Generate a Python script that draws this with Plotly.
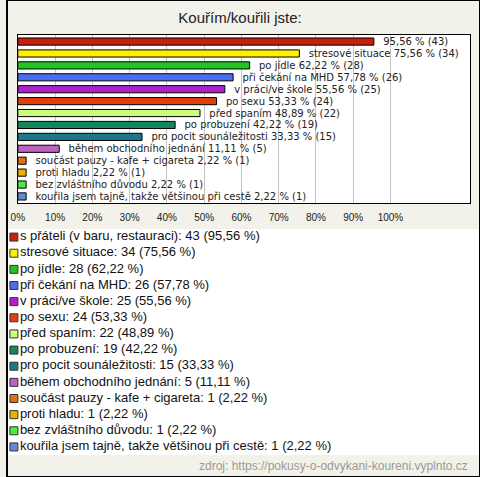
import plotly.graph_objects as go

categories = [
    "s přáteli (v baru, restauraci)",
    "stresové situace",
    "po jídle",
    "při čekání na MHD",
    "v práci/ve škole",
    "po sexu",
    "před spaním",
    "po probuzení",
    "pro pocit sounáležitosti",
    "během obchodního jednání",
    "součást pauzy - kafe + cigareta",
    "proti hladu",
    "bez zvláštního důvodu",
    "kouřila jsem tajně, takže většinou při cestě",
]
counts = [43, 34, 28, 26, 25, 24, 22, 19, 15, 5, 1, 1, 1, 1]
percents = [95.56, 75.56, 62.22, 57.78, 55.56, 53.33, 48.89, 42.22, 33.33, 11.11, 2.22, 2.22, 2.22, 2.22]
colors = ["#c8200e", "#ffee00", "#22c622", "#4a6ef0", "#b020d0", "#e0400c", "#ccff77",
          "#12885a", "#1a7a8c", "#c060c0", "#e07010", "#e8b400", "#44ee44", "#6688dd"]
tick_vals = [0, 10, 20, 30, 40, 50, 60, 70, 80, 90, 100]
tick_text = [f"{v}%" for v in tick_vals]

def fmt(p):
    return f"{p:.2f}".replace(".", ",")

NB = "\u00a0"
bar_text = []
for i, (c, n, p) in enumerate(zip(categories, counts, percents)):
    if i == 0:
        bar_text.append(f"{NB}{NB}{fmt(p)} % ({n})")
    else:
        bar_text.append(f"{NB}{NB}{c} {fmt(p)} % ({n})")

legend_text = [f"{c}: {n} ({fmt(p)} %)" for c, n, p in zip(categories, counts, percents)]
idx = list(range(len(categories)))

W, H = 480, 477
font = "Liberation Sans, Arial, sans-serif"

fig = go.Figure()
fig.add_trace(go.Bar(
    x=percents, y=idx, orientation="h",
    marker=dict(color=colors, line=dict(color="#000000", width=1)),
    width=0.6,
    text=bar_text, textposition="outside", constraintext="none", cliponaxis=False,
    textfont=dict(family="DejaVu Sans, sans-serif", size=10, color="#222222"),
    hoverinfo="skip", showlegend=False,
    xaxis="x", yaxis="y",
))
fig.add_trace(go.Scatter(
    x=[0] * len(idx), y=idx, mode="markers+text",
    marker=dict(symbol="square", size=8, color=colors, line=dict(color="#333333", width=1)),
    text=legend_text, textposition="middle right",
    textfont=dict(family=font, size=13, color="#111111"),
    hoverinfo="skip", showlegend=False, cliponaxis=False,
    xaxis="x2", yaxis="y2",
))

fig.update_layout(
    width=W, height=H,
    margin=dict(l=0, r=0, t=0, b=0),
    paper_bgcolor="#f3f2ea",
    plot_bgcolor="#ffffff",
    font=dict(family=font, color="#222222"),
    title=dict(text="Kouřím/kouřili jste:", x=0.5, xanchor="center",
               y=1 - 18 / H, yanchor="middle",
               font=dict(family=font, size=15, color="#222222")),
    xaxis=dict(
        domain=[11 / W, 470 / W], range=[0, 121.4],
        tickvals=tick_vals, ticktext=tick_text,
        tickfont=dict(family=font, size=10, color="#222222"),
        ticklabelstandoff=5,
        showgrid=True, gridcolor="#c4c4c4", gridwidth=1,
        zeroline=False, showline=True, linecolor="#000000", linewidth=1, mirror=True,
        ticks="", fixedrange=True,
    ),
    yaxis=dict(
        domain=[1 - 203 / H, 1 - 35 / H], range=[13.55, -0.55],
        showticklabels=False, showgrid=False, zeroline=False,
        showline=True, linecolor="#000000", linewidth=1, mirror=True, ticks="",
        fixedrange=True,
    ),
    xaxis2=dict(
        domain=[0, 1], range=[-7, 473], anchor="y2",
        visible=False, fixedrange=True,
    ),
    yaxis2=dict(
        domain=[1 - 455 / H, 1 - 229 / H], range=[13.5, -0.5], anchor="x2",
        visible=False, fixedrange=True,
    ),
    annotations=[dict(
        text="zdroj: https://pokusy-o-odvykani-koureni.vyplnto.cz",
        xref="paper", yref="paper", x=470 / W, y=1 - 466 / H,
        xanchor="right", yanchor="middle", showarrow=False,
        font=dict(family=font, size=12, color="#999999"),
    )],
    shapes=[dict(type="rect", xref="paper", yref="paper", x0=0, y0=0, x1=1, y1=1,
                 line=dict(color="#000000", width=2), layer="above")],
)

fig.write_html("out.html", config={"displayModeBar": False, "staticPlot": True})

# remove the default page margin so the figure fills the window exactly
with open("out.html", encoding="utf-8") as f:
    html = f.read()
html = html.replace("<head>", "<head><style>html,body{margin:0;padding:0;overflow:hidden;}</style>", 1)
with open("out.html", "w", encoding="utf-8") as f:
    f.write(html)
